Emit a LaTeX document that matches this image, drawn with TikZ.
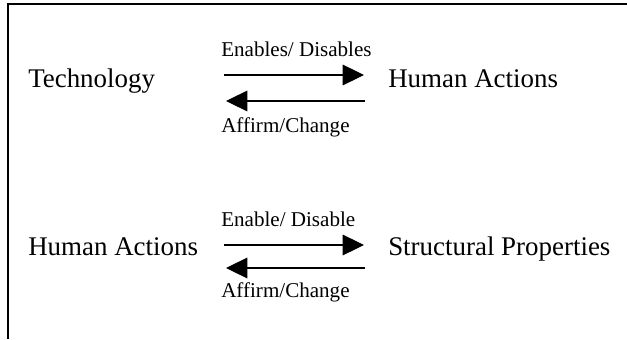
\documentclass[tikz,border=0pt]{standalone}
\usepackage{fontspec}
\setmainfont{Liberation Serif}
\usetikzlibrary{arrows.meta}
\tikzset{
  term/.style={anchor=base west, inner sep=0pt, font=\fontsize{20.2}{24}\selectfont},
  lbl/.style={anchor=base west, inner sep=0pt, font=\fontsize{15.8}{19}\selectfont},
  flow/.style={line width=0.8pt, -{Triangle[length=16pt, width=15.5pt]}},
  frame/.style={line width=1.2pt}
}
\begin{document}
\begin{tikzpicture}[x=0.75pt, y=-0.75pt]
  \useasboundingbox (0,0) rectangle (627,339);
  % open frame: left side and top
  \draw[frame] (8,339) -- (8,4) -- (627,4);

  % first relation
  \node[term] (tech) at (28,87) {Technology};
  \node[term] (ha1) at (388,87) {Human Actions};
  \node[lbl] (en1) at (221,56) {Enables/ Disables};
  \node[lbl] (af1) at (221,132) {Affirm/Change};
  \coordinate (a1s) at (224,75);
  \coordinate (a1e) at (364,75);
  \coordinate (b1s) at (365,101);
  \coordinate (b1e) at (226,101);
  \draw[flow] (a1s) -- (a1e);
  \draw[flow] (b1s) -- (b1e);

  % second relation
  \node[term] (ha2) at (28,255) {Human Actions};
  \node[term] (sp) at (388,255) {Structural Properties};
  \node[lbl] (en2) at (221,226) {Enable/ Disable};
  \node[lbl] (af2) at (221,297) {Affirm/Change};
  \coordinate (a2s) at (224,245);
  \coordinate (a2e) at (364,245);
  \coordinate (b2s) at (365,268);
  \coordinate (b2e) at (226,268);
  \draw[flow] (a2s) -- (a2e);
  \draw[flow] (b2s) -- (b2e);
\end{tikzpicture}
\end{document}
